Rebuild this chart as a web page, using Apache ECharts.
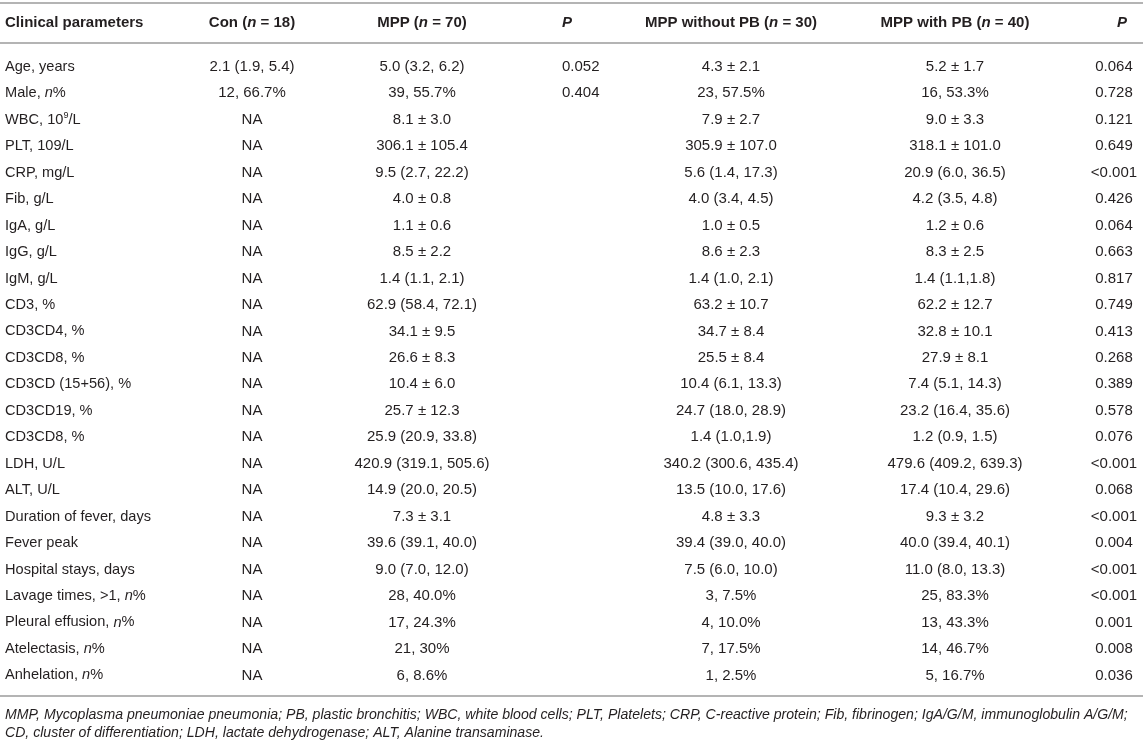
<!DOCTYPE html>
<html>
<head>
<meta charset="utf-8">
<script src="https://cdn.jsdelivr.net/npm/echarts@6/dist/echarts.min.js"></script>
<style>
  html, body { margin: 0; padding: 0; background: #fff; }
  #main { width: 1143px; height: 743px; }
</style>
</head>
<body>
<div id="main"></div>
<script>
// column headers (the n in "n = .." and the P are set in italics below)
const headers = ['Clinical parameters', 'Con (n = 18)', 'MPP (n = 70)', 'P', 'MPP without PB (n = 30)', 'MPP with PB (n = 40)', 'P']

// row labels (^9 -> superscript)
const params = [
  'Age, years', 'Male, n%', 'WBC, 10^9/L', 'PLT, 109/L', 'CRP, mg/L', 'Fib, g/L',
  'IgA, g/L', 'IgG, g/L', 'IgM, g/L', 'CD3, %', 'CD3CD4, %', 'CD3CD8, %',
  'CD3CD (15+56), %', 'CD3CD19, %', 'CD3CD8, %', 'LDH, U/L', 'ALT, U/L',
  'Duration of fever, days', 'Fever peak', 'Hospital stays, days',
  'Lavage times, >1, n%', 'Pleural effusion, n%', 'Atelectasis, n%', 'Anhelation, n%'
]

const con = [
  '2.1 (1.9, 5.4)', '12, 66.7%', 'NA', 'NA', 'NA', 'NA', 'NA', 'NA', 'NA', 'NA', 'NA', 'NA',
  'NA', 'NA', 'NA', 'NA', 'NA', 'NA', 'NA', 'NA', 'NA', 'NA', 'NA', 'NA'
]

const mpp = [
  '5.0 (3.2, 6.2)', '39, 55.7%', '8.1 ± 3.0', '306.1 ± 105.4', '9.5 (2.7, 22.2)', '4.0 ± 0.8',
  '1.1 ± 0.6', '8.5 ± 2.2', '1.4 (1.1, 2.1)', '62.9 (58.4, 72.1)', '34.1 ± 9.5', '26.6 ± 8.3',
  '10.4 ± 6.0', '25.7 ± 12.3', '25.9 (20.9, 33.8)', '420.9 (319.1, 505.6)', '14.9 (20.0, 20.5)',
  '7.3 ± 3.1', '39.6 (39.1, 40.0)', '9.0 (7.0, 12.0)', '28, 40.0%', '17, 24.3%', '21, 30%', '6, 8.6%'
]

const pConMpp = ['0.052', '0.404']

const mppWithout = [
  '4.3 ± 2.1', '23, 57.5%', '7.9 ± 2.7', '305.9 ± 107.0', '5.6 (1.4, 17.3)', '4.0 (3.4, 4.5)',
  '1.0 ± 0.5', '8.6 ± 2.3', '1.4 (1.0, 2.1)', '63.2 ± 10.7', '34.7 ± 8.4', '25.5 ± 8.4',
  '10.4 (6.1, 13.3)', '24.7 (18.0, 28.9)', '1.4 (1.0,1.9)', '340.2 (300.6, 435.4)', '13.5 (10.0, 17.6)',
  '4.8 ± 3.3', '39.4 (39.0, 40.0)', '7.5 (6.0, 10.0)', '3, 7.5%', '4, 10.0%', '7, 17.5%', '1, 2.5%'
]

const mppWith = [
  '5.2 ± 1.7', '16, 53.3%', '9.0 ± 3.3', '318.1 ± 101.0', '20.9 (6.0, 36.5)', '4.2 (3.5, 4.8)',
  '1.2 ± 0.6', '8.3 ± 2.5', '1.4 (1.1,1.8)', '62.2 ± 12.7', '32.8 ± 10.1', '27.9 ± 8.1',
  '7.4 (5.1, 14.3)', '23.2 (16.4, 35.6)', '1.2 (0.9, 1.5)', '479.6 (409.2, 639.3)', '17.4 (10.4, 29.6)',
  '9.3 ± 3.2', '40.0 (39.4, 40.1)', '11.0 (8.0, 13.3)', '25, 83.3%', '13, 43.3%', '14, 46.7%', '5, 16.7%'
]

const pPB = [
  '0.064', '0.728', '0.121', '0.649', '<0.001', '0.426', '0.064', '0.663', '0.817', '0.749',
  '0.413', '0.268', '0.389', '0.578', '0.076', '<0.001', '0.068', '<0.001', '0.004', '<0.001',
  '<0.001', '0.001', '0.008', '0.036'
]

const footnote = 'MMP, Mycoplasma pneumoniae pneumonia; PB, plastic bronchitis; WBC, white blood cells; PLT, Platelets; CRP, C-reactive protein; Fib, fibrinogen; IgA/G/M, immunoglobulin A/G/M;\n' +
  'CD, cluster of differentiation; LDH, lactate dehydrogenase; ALT, Alanine transaminase.'

// layout: where each column sits on the x scale and how it is aligned
const colAnchor = [5, 252, 422, 562, 731, 955, 1114]
const headAnchor = [5, 252, 422, 562, 731, 955, 1122]
const colAlign = ['left', 'center', 'center', 'left', 'center', 'center', 'center']
const columns = [params, con, mpp, pConMpp, mppWithout, mppWith, pPB]

const FONT = '"Liberation Sans", Arial, Helvetica, sans-serif'
const LABEL_SIZE = 14.6
const VALUE_SIZE = 15
const HEAD_SIZE = 15
const TEXT = '#231f20'
const RULE = '#b4b4b4'

function richFor (size) {
  return {
    i: { fontStyle: 'italic', fontFamily: FONT, fontSize: size, fill: TEXT },
    ib: { fontStyle: 'italic', fontWeight: 'bold', fontFamily: FONT, fontSize: size, fill: TEXT },
    sup: { fontFamily: FONT, fontSize: 9, fill: TEXT, verticalAlign: 'top', padding: [0, 0, 8, 0] }
  }
}

// plain cell text -> rich text (italic n, superscript powers)
function markup (s, bold) {
  if (bold && s === 'P') return '{ib|P}'
  return s
    .replace(/\^(\d+)/g, '{sup|$1}')
    .replace(/\bn(?=%| =)/g, bold ? '{ib|n}' : '{i|n}')
}

const bodyData = []
columns.forEach((col, c) => {
  col.forEach((txt, r) => {
    if (txt !== '') bodyData.push([colAnchor[c], r, c, txt])
  })
})
const headData = headers.map((h, c) => [headAnchor[c], 0, c, h])

function textCell (rows, bold) {
  return function (params, api) {
    const pt = api.coord([api.value(0), api.value(1)])
    const c = api.value(2)
    const size = bold ? HEAD_SIZE : (c === 0 ? LABEL_SIZE : VALUE_SIZE)
    return {
      type: 'text',
      x: pt[0],
      y: pt[1],
      style: {
        text: markup(rows[params.dataIndex][3], bold),
        align: colAlign[c],
        verticalAlign: 'middle',
        fontFamily: FONT,
        fontSize: size,
        fontWeight: bold ? 'bold' : 'normal',
        fill: TEXT,
        rich: richFor(size)
      }
    }
  }
}

const chart = echarts.init(document.getElementById('main'), null, { renderer: 'canvas' })

// horizontal rules are the axis lines of hidden value axes
const rule = (pos, grid) => ({
  type: 'value', gridIndex: grid, position: pos, min: 0, max: 1143,
  axisLine: { show: true, onZero: false, lineStyle: { color: RULE, width: 2 } },
  axisTick: { show: false }, axisLabel: { show: false }, splitLine: { show: false }
})

chart.setOption({
  animation: false,
  backgroundColor: '#fff',
  title: {
    text: footnote,
    left: 5,
    top: 706,
    padding: 0,
    textStyle: {
      fontFamily: FONT,
      fontStyle: 'italic',
      fontWeight: 'normal',
      fontSize: 14.1,
      lineHeight: 18,
      color: TEXT
    }
  },
  grid: [
    { left: 0, right: 0, top: 3, height: 40 },
    { left: 0, right: 0, top: 43, bottom: 47 }
  ],
  xAxis: [
    rule('top', 0),
    rule('bottom', 0),
    rule('bottom', 1)
  ],
  yAxis: [
    { type: 'value', gridIndex: 0, min: -0.5, max: 0.5, inverse: true, show: false },
    { type: 'value', gridIndex: 1, min: -0.9, max: 23.78, inverse: true, show: false }
  ],
  series: [
    {
      type: 'custom',
      xAxisIndex: 0,
      yAxisIndex: 0,
      silent: true,
      data: headData,
      renderItem: textCell(headData, true)
    },
    {
      type: 'custom',
      xAxisIndex: 2,
      yAxisIndex: 1,
      silent: true,
      data: bodyData,
      renderItem: textCell(bodyData, false)
    }
  ]
})
</script>
</body>
</html>
